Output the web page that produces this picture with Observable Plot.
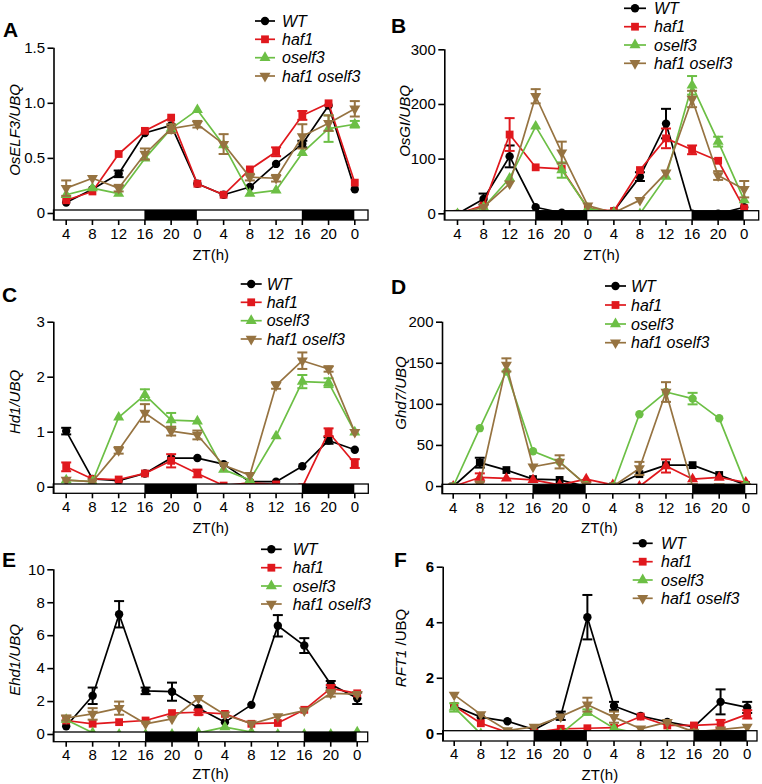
<!DOCTYPE html>
<html>
<head>
<meta charset="utf-8">
<script src="https://cdn.jsdelivr.net/npm/d3@7"></script>
<script src="https://cdn.jsdelivr.net/npm/@observablehq/plot@0.6"></script>
<style>
  body { margin: 0; background: #fff; }
  #fig { position: relative; width: 762px; height: 784px; overflow: hidden; background: #fff;
         font-family: "Liberation Sans", Arial, sans-serif; }
  .panel { position: absolute; }
  #overlay { position: absolute; left: 0; top: 0; pointer-events: none; }
</style>
</head>
<body>
<div id="fig"></div>
<script>
// ---------- shared categories ----------
const ZT = [4, 8, 12, 16, 20, 0, 4, 8, 12, 16, 20, 0];
const T = d3.range(ZT.length);
const NAMES = ["WT", "haf1", "oself3", "haf1 oself3"];
const COLORS = ["#000000", "#e0181d", "#6cbf45", "#967341"];
const DARK = [[3, 5], [9, 11]];   // dark periods (ZT16 -> ZT0), as index spans

// ---------- A: OsELF3/UBQ ----------
const A_WT    = [0.10, 0.22, 0.36, 0.73, 0.80, 0.27, 0.17, 0.24, 0.45, 0.63, 0.98, 0.22];
const A_haf1  = [0.12, 0.20, 0.54, 0.75, 0.87, 0.27, 0.17, 0.40, 0.56, 0.89, 1.00, 0.28];
const A_os    = [0.17, 0.23, 0.18, 0.50, 0.77, 0.94, 0.62, 0.18, 0.21, 0.55, 0.77, 0.81];
const A_dbl   = [0.23, 0.32, 0.23, 0.54, 0.77, 0.81, 0.63, 0.33, 0.32, 0.70, 0.82, 0.95];
const A_WT_e  = [0, 0, 0.03, 0, 0, 0, 0, 0, 0, 0.03, 0, 0];
const A_haf1_e= [0, 0, 0, 0, 0, 0, 0, 0, 0.04, 0.04, 0, 0];
const A_os_e  = [0, 0, 0, 0, 0, 0, 0, 0, 0, 0, 0.12, 0.03];
const A_dbl_e = [0.07, 0, 0.03, 0.05, 0.04, 0.03, 0.09, 0.03, 0.03, 0.11, 0.07, 0.07];
const A_ticks = [0, 0.5, 1.0, 1.5];

// ---------- B: OsGI/UBQ ----------
const B_WT    = [0, 27, 105, 12, 2, 3, 5, 68, 165, 0, 0, 12];
const B_haf1  = [0, 15, 145, 85, 82, 10, 5, 80, 138, 117, 97, 10];
const B_os    = [0, 12, 65, 160, 80, 10, 2, 0, 68, 235, 132, 25];
const B_dbl   = [0, 12, 55, 215, 112, 15, 2, 25, 75, 210, 70, 45];
const B_WT_e  = [0, 10, 20, 0, 0, 0, 0, 8, 27, 0, 0, 0];
const B_haf1_e= [0, 0, 30, 0, 0, 0, 0, 0, 18, 8, 0, 0];
const B_os_e  = [0, 0, 0, 0, 14, 0, 0, 0, 0, 17, 9, 0];
const B_dbl_e = [0, 0, 0, 13, 20, 0, 0, 0, 0, 15, 8, 15];
const B_ticks = [0, 100, 200, 300];

// ---------- C: Hd1/UBQ ----------
const C_WT    = [1.02, 0.15, 0.12, 0.25, 0.53, 0.53, 0.42, 0.10, 0.10, 0.38, 0.85, 0.68];
const C_haf1  = [0.37, 0.15, 0.14, 0.25, 0.48, 0.25, 0.03, 0.08, 0.05, 0.00, 1.00, 0.43];
const C_os    = [0.13, 0.10, 1.27, 1.68, 1.22, 1.20, 0.32, 0.13, 0.93, 1.92, 1.90, 1.00];
const C_dbl   = [0.13, 0.10, 0.67, 1.35, 1.02, 0.95, 0.40, 0.22, 1.85, 2.30, 2.15, 1.00];
const C_WT_e  = [0.06, 0, 0, 0, 0, 0, 0, 0, 0, 0, 0.06, 0];
const C_haf1_e= [0.08, 0, 0, 0, 0.12, 0.07, 0, 0, 0, 0, 0.07, 0.08];
const C_os_e  = [0, 0, 0, 0.10, 0.13, 0, 0, 0, 0, 0.12, 0.08, 0];
const C_dbl_e = [0, 0, 0.06, 0.16, 0.08, 0.08, 0, 0, 0.06, 0.15, 0.05, 0];
const C_ticks = [0, 1, 2, 3];

// ---------- D: Ghd7/UBQ ----------
const D_WT    = [0, 29, 20, 9, 8, 0, 0, 15, 26, 26, 14, 2];
const D_haf1  = [0, 11, 10, 8, 2, 9, 2, 0, 25, 9, 11, 5];
const D_os    = [0, 71, 140, 43, 30, 2, 0, 88, 115, 107, 83, 2];
const D_dbl   = [0, 3, 148, 24, 30, 2, 0, 22, 115, 0, 0, 0];
const D_WT_e  = [0, 6, 0, 0, 0, 0, 0, 0, 0, 0, 0, 0];
const D_haf1_e= [0, 5, 0, 0, 0, 0, 0, 0, 8, 0, 0, 0];
const D_os_e  = [0, 0, 0, 0, 0, 0, 0, 0, 0, 7, 0, 0];
const D_dbl_e = [0, 0, 8, 0, 8, 0, 0, 8, 12, 0, 0, 0];
const D_ticks = [0, 50, 100, 150, 200];

// ---------- E: Ehd1/UBQ ----------
const E_WT    = [0.5, 2.35, 7.3, 2.65, 2.6, 1.6, 0.75, 1.8, 6.6, 5.4, 3.05, 2.2];
const E_haf1  = [0.85, 0.65, 0.75, 0.85, 1.3, 1.35, 1.25, 0.65, 0.7, 1.5, 2.8, 2.5];
const E_os    = [0.9, 0.1, 0, 0, 0, 0.1, 0.45, 0.15, 0, 0, 0, 0.15];
const E_dbl   = [1.0, 1.25, 1.6, 0.65, 0.95, 2.2, 1.2, 0.65, 1.1, 1.45, 2.5, 2.45];
const E_WT_e  = [0, 0.5, 0.8, 0.2, 0.55, 0, 0, 0, 0.65, 0.45, 0.2, 0.35];
const E_haf1_e= [0, 0, 0, 0, 0, 0.15, 0, 0, 0, 0, 0.2, 0];
const E_os_e  = [0, 0, 0, 0, 0, 0, 0, 0, 0, 0, 0, 0];
const E_dbl_e = [0.15, 0.35, 0.4, 0, 0, 0, 0, 0, 0, 0, 0.2, 0];
const E_ticks = [0, 2, 4, 6, 8, 10];

// ---------- F: RFT1/UBQ ----------
const F_WT    = [1.0, 0.6, 0.45, 0.15, 0.65, 4.2, 1.0, 0.64, 0.43, 0.25, 1.15, 0.95];
const F_haf1  = [1.0, 0.38, 0.05, 0.05, 0.18, 0.2, 0.22, 0.62, 0.3, 0.3, 0.35, 0.7];
const F_os    = [0.95, 0, 0, 0, 0, 0.78, 0.2, 0, 0, 0, 0, 0];
const F_dbl   = [1.4, 0.7, 0.12, 0.25, 0.62, 1.05, 0.6, 0.18, 0.42, 0.07, 0.15, 0.25];
const F_WT_e  = [0, 0, 0, 0, 0.15, 0.8, 0.15, 0, 0, 0, 0.45, 0.2];
const F_haf1_e= [0, 0, 0, 0, 0, 0, 0, 0, 0, 0, 0.15, 0.15];
const F_os_e  = [0.15, 0, 0, 0, 0, 0.1, 0, 0, 0, 0, 0, 0];
const F_dbl_e = [0, 0, 0, 0, 0, 0.25, 0.2, 0, 0, 0, 0, 0];
const F_ticks = [0, 2, 4, 6];

// ---------- symbols ----------
const SQ3 = Math.sqrt(3);
const DOWN = { draw(ctx, size) {
  const y = -Math.sqrt(size / (SQ3 * 3));
  ctx.moveTo(0, -y * 2); ctx.lineTo(-SQ3 * y, y); ctx.lineTo(SQ3 * y, y); ctx.closePath();
}};
const CAP = { draw(ctx) { ctx.moveTo(-5, 0); ctx.lineTo(5, 0); } };
const SYM_STD = ["circle", "square", "triangle", DOWN];
const SYM_D   = ["square", "triangle", "circle", DOWN];
function symR(s) { return s === "circle" ? 4.2 : s === "square" ? 4.4 : 4.1; }
function d3sym(s) { return s === "circle" ? d3.symbolCircle : s === "square" ? d3.symbolSquare : s === "triangle" ? d3.symbolTriangle : s; }

// ---------- panels ----------
const panels = [
  { letter: "A", title: [["OsELF3/UBQ", true]], ymax: 1.5, ticks: A_ticks,
    fmtFn: v => v === 0 ? "0" : v.toFixed(1),
    values: [A_WT, A_haf1, A_os, A_dbl], errors: [A_WT_e, A_haf1_e, A_os_e, A_dbl_e], symbols: SYM_STD,
    L: {ox: 0, oy: 0, w: 381, h: 260, boxL: 53.5, boxR: 368, x0: 65.7, x11: 354.3, yTop: 47.7, yZero: 213, boxTop: 210, boxBot: 220},
    letterPos: [3, 37], titlePos: [19.5, 130], ztY: 260, tickPad: 3, yWeight: "normal",
    legend: {rows: [21, 39.3, 57.7, 76], sx1: 255, sx2: 275, tx: 282} },
  { letter: "B", title: [["OsGI/UBQ", true]], ymax: 300, ticks: B_ticks, fmtFn: v => String(v),
    values: [B_WT, B_haf1, B_os, B_dbl], errors: [B_WT_e, B_haf1_e, B_os_e, B_dbl_e], symbols: SYM_STD,
    L: {ox: 381, oy: 0, w: 381, h: 260, boxL: 63.3, boxR: 377.7, x0: 76, x11: 362.7, yTop: 49.3, yZero: 213.3, boxTop: 210.7, boxBot: 220},
    letterPos: [391, 33], titlePos: [410, 121], ztY: 260, tickPad: 3, yWeight: "normal",
    legend: {rows: [8.3, 26.7, 45, 63.3], sx1: 624, sx2: 646, tx: 654} },
  { letter: "C", title: [["Hd1/UBQ", true]], ymax: 3, ticks: C_ticks, fmtFn: v => String(v),
    values: [C_WT, C_haf1, C_os, C_dbl], errors: [C_WT_e, C_haf1_e, C_os_e, C_dbl_e], symbols: SYM_STD,
    L: {ox: 0, oy: 260, w: 381, h: 260, boxL: 53.3, boxR: 368.3, x0: 65.7, x11: 354.3, yTop: 61.7, yZero: 226.7, boxTop: 224, boxBot: 233.3},
    letterPos: [2, 302], titlePos: [20, 402], ztY: 533, tickPad: 3, yWeight: "normal",
    legend: {rows: [284, 302.3, 320.7, 339], sx1: 240.7, sx2: 261.7, tx: 266.7} },
  { letter: "D", title: [["Ghd7/UBQ", true]], ymax: 200, ticks: D_ticks, fmtFn: v => String(v),
    values: [D_WT, D_haf1, D_os, D_dbl], errors: [D_WT_e, D_haf1_e, D_os_e, D_dbl_e], symbols: SYM_D,
    L: {ox: 381, oy: 260, w: 381, h: 260, boxL: 61, boxR: 375.7, x0: 71.7, x11: 364.3, yTop: 61.7, yZero: 226, boxTop: 224.3, boxBot: 233.7},
    letterPos: [391, 294], titlePos: [406, 393], ztY: 533, tickPad: 3, yWeight: "normal",
    legend: {rows: [286, 305, 324, 342.7], sx1: 605, sx2: 626, tx: 631} },
  { letter: "E", title: [["Ehd1/UBQ", true]], ymax: 10, ticks: E_ticks, fmtFn: v => String(v),
    values: [E_WT, E_haf1, E_os, E_dbl], errors: [E_WT_e, E_haf1_e, E_os_e, E_dbl_e], symbols: SYM_STD,
    L: {ox: 0, oy: 520, w: 381, h: 264, boxL: 53.3, boxR: 367.7, x0: 65.7, x11: 356.7, yTop: 49.3, yZero: 214, boxTop: 212, boxBot: 221.7},
    letterPos: [2, 567], titlePos: [20, 660], ztY: 779, tickPad: 2, yWeight: "normal",
    legend: {rows: [549.3, 567.7, 586, 604], sx1: 261, sx2: 281.7, tx: 292.7} },
  { letter: "F", title: [["RFT1", true], [" /UBQ", false]], ymax: 6, ticks: F_ticks, fmtFn: v => String(v),
    values: [F_WT, F_haf1, F_os, F_dbl], errors: [F_WT_e, F_haf1_e, F_os_e, F_dbl_e], symbols: SYM_STD,
    L: {ox: 381, oy: 520, w: 381, h: 264, boxL: 61.7, boxR: 376, x0: 72.7, x11: 365.7, yTop: 46.7, yZero: 213.3, boxTop: 210.7, boxBot: 221},
    letterPos: [394, 567], titlePos: [406, 648], ztY: 780, tickPad: 2, yWeight: "bold",
    legend: {rows: [543.3, 561.7, 580, 598.3], sx1: 632.7, sx2: 652.7, tx: 661} }
];

const FONT = "Liberation Sans, Arial, Helvetica, sans-serif";
const fig = d3.select("#fig");

function drawPanel(p) {
  const L = p.L;
  const pxIdx = (L.x11 - L.x0) / 11;
  const xMin = (L.boxL - L.x0) / pxIdx;
  const xMax = (L.boxR - L.x0) / pxIdx;
  const pxUnit = (L.yZero - L.yTop) / p.ymax;
  const yMin = -(L.boxBot - L.yZero) / pxUnit;
  const yBoxTop = (L.yZero - L.boxTop) / pxUnit;

  const marks = [];
  p.values.forEach((vals, s) => {
    const rows = vals.map((v, i) => ({i, v, e: p.errors[s][i]}));
    const er = rows.filter(r => r.e > 0);
    const c = COLORS[s];
    const sym = p.symbols[s];
    marks.push(Plot.line(rows, {x: "i", y: "v", stroke: c, strokeWidth: 1.7}));
    marks.push(Plot.ruleX(er, {x: "i", y1: r => r.v - r.e, y2: r => r.v + r.e, stroke: c, strokeWidth: 2}));
    marks.push(Plot.dot(er, {x: "i", y: r => r.v + r.e, symbol: CAP, r: 3, stroke: c, strokeWidth: 2, fill: "none"}));
    marks.push(Plot.dot(er, {x: "i", y: r => r.v - r.e, symbol: CAP, r: 3, stroke: c, strokeWidth: 2, fill: "none"}));
    marks.push(Plot.dot(rows, {x: "i", y: "v", symbol: sym, r: symR(sym), fill: c, stroke: "none"}));
  });
  // light/dark bar
  marks.push(Plot.rect([[xMin, xMax]], {x1: d => d[0], x2: d => d[1], y1: () => yMin, y2: () => yBoxTop,
    fill: "white", stroke: "black", strokeWidth: 1.3}));
  marks.push(Plot.rect(DARK, {x1: d => d[0], x2: d => d[1], y1: () => yMin, y2: () => yBoxTop, fill: "black"}));
  // y axis line
  marks.push(Plot.ruleX([xMin], {y1: () => yMin, y2: () => p.ymax, stroke: "black", strokeWidth: 1.6}));
  marks.push(Plot.axisY({ticks: p.ticks, tickFormat: p.fmtFn, tickSize: 6, tickPadding: 3, fontSize: 15,
    fontWeight: p.yWeight, strokeWidth: 1.6, label: null}));
  marks.push(Plot.axisX({ticks: T, tickFormat: i => ZT[i], tickSize: 5, tickPadding: p.tickPad, fontSize: 15, strokeWidth: 1.6, label: null}));

  const chart = Plot.plot({
    width: L.w, height: L.h,
    marginLeft: L.boxL, marginRight: L.w - L.boxR, marginTop: L.yTop, marginBottom: L.h - L.boxBot,
    x: {domain: [xMin, xMax]},
    y: {domain: [yMin, p.ymax]},
    style: {fontFamily: FONT, background: "transparent", color: "black", overflow: "visible"},
    marks
  });
  fig.append("div").attr("class", "panel")
    .style("left", L.ox + "px").style("top", L.oy + "px")
    .node().appendChild(chart);
}

panels.forEach(drawPanel);

// ---------- overlay texts & legends ----------
const ov = fig.append("svg").attr("id", "overlay").attr("width", 762).attr("height", 784)
  .attr("font-family", FONT);

panels.forEach(p => {
  const L = p.L;
  // panel letter
  ov.append("text").attr("x", p.letterPos[0]).attr("y", p.letterPos[1])
    .attr("font-size", 21).attr("font-weight", "bold").text(p.letter);
  // y title
  const t = ov.append("text").attr("transform", `translate(${p.titlePos[0]},${p.titlePos[1]}) rotate(-90)`)
    .attr("text-anchor", "middle").attr("font-size", 15);
  p.title.forEach(([s, it]) => t.append("tspan").attr("font-style", it ? "italic" : "normal").text(s));
  // x title
  ov.append("text").attr("x", L.ox + (L.boxL + L.boxR) / 2).attr("y", p.ztY)
    .attr("text-anchor", "middle").attr("font-size", 15).text("ZT(h)");
  // legend
  const lg = p.legend;
  NAMES.forEach((name, s) => {
    const y = lg.rows[s];
    ov.append("line").attr("x1", lg.sx1).attr("x2", lg.sx2).attr("y1", y).attr("y2", y)
      .attr("stroke", COLORS[s]).attr("stroke-width", 1.7);
    const sym = SYM_STD[s];
    const r = symR(sym);
    ov.append("path").attr("transform", `translate(${(lg.sx1 + lg.sx2) / 2},${y})`)
      .attr("d", d3.symbol(d3sym(sym), Math.PI * r * r)()).attr("fill", COLORS[s]);
    ov.append("text").attr("x", lg.tx).attr("y", y + 5.5).attr("font-size", 16)
      .attr("font-style", "italic").text(name);
  });
});
</script>
</body>
</html>
